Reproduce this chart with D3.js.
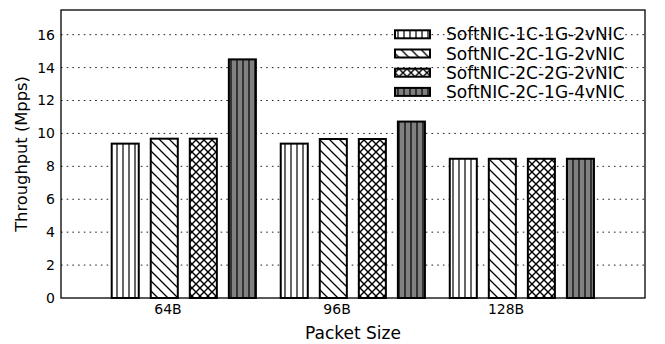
<!DOCTYPE html>
<html>
<head>
<meta charset="utf-8">
<script src="https://cdn.jsdelivr.net/npm/d3@7"></script>
<style>
  body { margin: 0; background: #fff; }
  svg { display: block; font-family: "DejaVu Sans", sans-serif; }
</style>
</head>
<body>
<div id="chart"></div>
<script>
// data
var packetSizes = ["64B", "96B", "128B"]
var seriesNames = ["SoftNIC-1C-1G-2vNIC", "SoftNIC-2C-1G-2vNIC", "SoftNIC-2C-2G-2vNIC", "SoftNIC-2C-1G-4vNIC"]
var nic1c1g2v = [9.38, 9.38, 8.46]
var nic2c1g2v = [9.68, 9.66, 8.46]
var nic2c2g2v = [9.68, 9.66, 8.46]
var nic2c1g4v = [14.5, 10.72, 8.46]
var yTicks = [0, 2, 4, 6, 8, 10, 12, 14, 16]

var series = [nic1c1g2v, nic2c1g2v, nic2c2g2v, nic2c1g4v]
var fills = ["url(#hVert)", "url(#hDiag)", "url(#hCross)", "url(#hVertGray)"]

var W = 665, H = 344
var m = {left: 61, right: 20, top: 10, bottom: 46}

var svg = d3.select("#chart").append("svg")
  .attr("width", W)
  .attr("height", H)

// hatch patterns, aligned to the page like matplotlib does
var defs = svg.append("defs")
function vertPattern(id, bg) {
  var p = defs.append("pattern").attr("id", id)
    .attr("patternUnits", "userSpaceOnUse").attr("width", 6).attr("height", 6)
  p.append("rect").attr("width", 6).attr("height", 6).attr("fill", bg)
  p.append("line").attr("x1", 3).attr("x2", 3).attr("y1", 0).attr("y2", 6)
    .attr("stroke", "#000").attr("stroke-width", 1.2)
}
vertPattern("hVert", "#fff")
vertPattern("hVertGray", "#808080")

var pd = defs.append("pattern").attr("id", "hDiag")
  .attr("patternUnits", "userSpaceOnUse").attr("width", 10).attr("height", 10)
pd.append("rect").attr("width", 10).attr("height", 10).attr("fill", "#fff")
pd.append("path").attr("d", "M0,0L10,10M-5,5L5,15M5,-5L15,5")
  .attr("stroke", "#000").attr("stroke-width", 1.3)

var pc = defs.append("pattern").attr("id", "hCross")
  .attr("patternUnits", "userSpaceOnUse").attr("width", 8).attr("height", 8)
pc.append("rect").attr("width", 8).attr("height", 8).attr("fill", "#fff")
pc.append("path").attr("d", "M0,0L8,8M8,0L0,8")
  .attr("stroke", "#000").attr("stroke-width", 1.4)

var x = d3.scaleLinear().domain([-0.30, 3.155]).range([m.left, W - m.right])
var y = d3.scaleLinear().domain([0, 17.5]).range([H - m.bottom, m.top])
var barW = 0.16, barStep = 0.231

// grid
svg.append("g").selectAll("line")
  .data(yTicks.filter(function(d) { return d > 0 }))
  .enter().append("line")
  .attr("x1", m.left).attr("x2", W - m.right)
  .attr("y1", function(d) { return y(d) }).attr("y2", function(d) { return y(d) })
  .attr("stroke", "#222").attr("stroke-width", 1).attr("stroke-dasharray", "1.6,4.1")

// bars
series.forEach(function(vals, j) {
  svg.append("g").selectAll("rect")
    .data(vals).enter().append("rect")
    .attr("x", function(d, i) { return x(i + j * barStep) })
    .attr("width", x(barW) - x(0))
    .attr("y", function(d) { return y(d) })
    .attr("height", function(d) { return y(0) - y(d) })
    .attr("fill", fills[j])
    .attr("stroke", "#000")
    .attr("stroke-width", 2)
})

// frame
svg.append("rect")
  .attr("x", m.left).attr("y", m.top)
  .attr("width", W - m.right - m.left).attr("height", H - m.bottom - m.top)
  .attr("fill", "none").attr("stroke", "#000").attr("stroke-width", 1.3)

// y axis
var yAxis = svg.append("g")
  .attr("transform", "translate(" + m.left + ",0)")
  .call(d3.axisLeft(y).tickValues(yTicks).tickSize(0).tickPadding(6))
yAxis.select(".domain").remove()
yAxis.selectAll("text").attr("font-size", 14).attr("fill", "#000")
  .attr("font-family", "DejaVu Sans")

// x axis
var xAxis = svg.append("g")
  .attr("transform", "translate(0," + (H - m.bottom) + ")")
  .call(d3.axisBottom(x).tickValues([0.33, 1.33, 2.33])
    .tickFormat(function(d, i) { return packetSizes[i] }).tickSize(0).tickPadding(6))
xAxis.select(".domain").remove()
xAxis.selectAll("text").attr("font-size", 14).attr("fill", "#000")
  .attr("font-family", "DejaVu Sans")

// axis titles
svg.append("text")
  .attr("x", (m.left + W - m.right) / 2).attr("y", 339)
  .attr("text-anchor", "middle").attr("font-size", 17)
  .text("Packet Size")
svg.append("text")
  .attr("transform", "translate(27," + ((m.top + H - m.bottom) / 2) + ") rotate(-90)")
  .attr("text-anchor", "middle").attr("font-size", 16.3)
  .text("Throughput (Mpps)")

// legend (no frame)
var leg = svg.append("g").selectAll("g")
  .data(seriesNames).enter().append("g")
  .attr("transform", function(d, i) { return "translate(395," + (34.3 + i * 19.2) + ")" })
leg.append("rect")
  .attr("x", 0).attr("y", -4).attr("width", 35).attr("height", 8)
  .attr("fill", function(d, i) { return fills[i] })
  .attr("stroke", "#000").attr("stroke-width", 2)
leg.append("text")
  .attr("x", 51).attr("y", 0).attr("dy", "0.36em")
  .attr("font-size", 17)
  .text(function(d) { return d })
</script>
</body>
</html>
